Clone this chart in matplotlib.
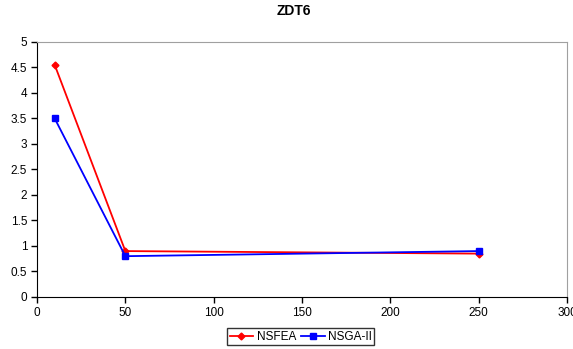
import matplotlib
matplotlib.use("Agg")
import matplotlib.pyplot as plt

x = [10, 50, 250]
nsfea = [4.55, 0.9, 0.85]
nsga2 = [3.5, 0.8, 0.9]

plt.rcParams["font.family"] = "Liberation Sans"
plt.rcParams["font.size"] = 8.5

fig = plt.figure(figsize=(5.73, 3.49), dpi=100)
ax = fig.add_axes([0.0646, 0.149, 0.925, 0.731])

ax.plot(x, nsfea, color="#ff0000", marker="D", markersize=3.5, lw=1.3, label="NSFEA")
ax.plot(x, nsga2, color="#0000ff", marker="s", markersize=5, lw=1.3, label="NSGA-II")

ax.set_xlim(0, 300)
ax.set_ylim(0, 5)
ax.set_xticks(range(0, 301, 50))
ax.set_yticks([0, 0.5, 1, 1.5, 2, 2.5, 3, 3.5, 4, 4.5, 5])
ax.set_yticklabels(["0", "0.5", "1", "1.5", "2", "2.5", "3", "3.5", "4", "4.5", "5"])
ax.tick_params(direction="out", length=4, width=1, pad=3)

ax.spines["top"].set_color("#a0a0a0")
ax.spines["right"].set_color("#a0a0a0")
for s in ("left", "bottom"):
    ax.spines[s].set_color("black")

fig.text(0.512, 0.968, "ZDT6", ha="center", va="center", fontweight="bold", fontsize=10)

leg = fig.legend(loc="center", bbox_to_anchor=(0.525, 0.035), ncol=2, frameon=True,
                 fancybox=False, edgecolor="black", handlelength=2.0, handletextpad=0.3,
                 columnspacing=0.4, borderpad=0.2, fontsize=8.5)
leg.get_frame().set_linewidth(1)

fig.savefig("out.png", dpi=100)
